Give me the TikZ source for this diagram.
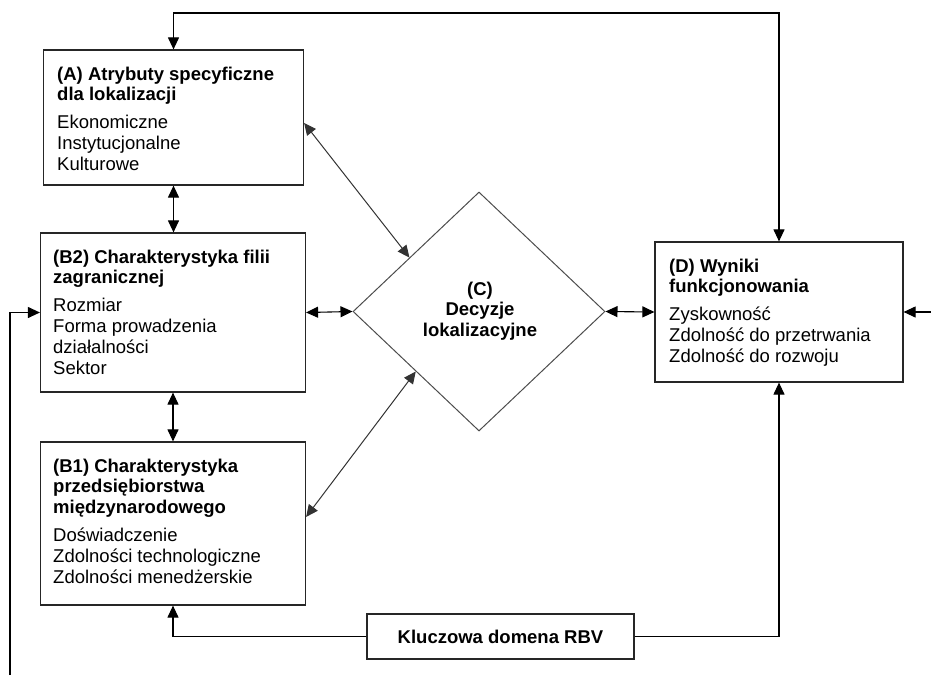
\documentclass[tikz,border=0pt]{standalone}
\usepackage{fontspec}
\setmainfont{Liberation Sans}
\usetikzlibrary{arrows.meta,shapes.geometric,calc}

% Text block: bold heading, a little space, then the list of items
\newcommand{\blocktext}[3]{%
  \begin{minipage}[t]{#1}%
    \setlength{\parindent}{0pt}\raggedright
    \fontsize{18.5}{20.8}\selectfont\lineskiplimit=-50pt
    \textbf{#2}\par\vspace{7.2pt}#3%
  \end{minipage}}

\begin{document}
\begin{tikzpicture}[x=1pt, y=-1pt,
  panel/.style={draw=black!85, line width=1.2pt, rectangle, inner sep=0pt},
  decision/.style={draw=black!70, line width=1pt, diamond, inner sep=0pt,
                   minimum width=252pt, minimum height=239pt},
  label/.style={inner sep=0pt, anchor=base west},
  tip/.tip={Triangle[length=12pt, width=11pt]},
  link/.style={line width=1.1pt},
  diag/.style={line width=1pt, draw=black!80},
]
\useasboundingbox (0,0) rectangle (931,675);

% boxes
\node[panel, minimum width=260pt, minimum height=135pt] (A)  at (173.5,117.5) {};
\node[panel, minimum width=265pt, minimum height=159pt] (B2) at (173,312.5) {};
\node[panel, minimum width=265pt, minimum height=163pt] (B1) at (173,523.5) {};
\node[panel, minimum width=248pt, minimum height=140pt] (D)  at (779,312) {};
\node[decision] (C) at (479,311.5) {};
\node[panel, minimum width=267pt, minimum height=45pt,
      font=\fontsize{18.5}{20.8}\selectfont\bfseries] (K) at (500.5,636.5) {Kluczowa domena RBV};

% box texts
\node[label] (Atxt) at (57,80) {\blocktext{240pt}{(A) Atrybuty specyficzne\\dla lokalizacji}
  {Ekonomiczne\\Instytucjonalne\\Kulturowe}};
\node[label] (B2txt) at (53,263) {\blocktext{245pt}{(B2) Charakterystyka filii\\zagranicznej}
  {Rozmiar\\Forma prowadzenia\\działalności\\Sektor}};
\node[label] (B1txt) at (53,472) {\blocktext{245pt}{(B1) Charakterystyka\\przedsiębiorstwa\\międzynarodowego}
  {Doświadczenie\\Zdolności technologiczne\\Zdolności menedżerskie}};
\node[label] (Dtxt) at (669,272) {\blocktext{230pt}{(D) Wyniki\\funkcjonowania}
  {Zyskowność\\Zdolność do przetrwania\\Zdolność do rozwoju}};
\node[inner sep=0pt, anchor=base] (Ctxt) at (480,295) {%
  \begin{minipage}[t]{160pt}\centering
  \fontsize{18.5}{20.8}\selectfont\bfseries\lineskiplimit=-50pt
  (C)\\Decyzje\\lokalizacyjne\end{minipage}};

% helper points for the outer loops
\coordinate (topY) at (0,13);
\coordinate (leftEnd) at (10,675);
\coordinate (rightEnd) at (931,312);

% feedback from the top
\draw[link, tip-tip] (A.north) -- (A.north |- topY) -- (D.north |- topY) -- (D.north);

% vertical links between the left boxes
\draw[link, tip-tip] (A.south) -- (A.south |- B2.north);
\draw[link, tip-tip] (B2.south) -- (B2.south |- B1.north);

% horizontal links through the decision
\draw[link, tip-tip] (B2.east) -- (C.west);
\draw[link, tip-tip] (C.east) -- (D.west);

% diagonal links to the decision
\draw[diag, tip-tip] ($(A.north east)!0.54!(A.south east)$) -- ($(C.west)!0.45!(C.north)$);
\draw[diag, tip-tip] ($(B1.north east)!0.46!(B1.south east)$) -- ($(C.west)!0.5!(C.south)$);

% RBV domain
\draw[link, -tip] (K.west) -| (B1.south);
\draw[link, -tip] (K.east) -| (D.south);

% incoming lines at the edges
\draw[link, -tip] (leftEnd) |- (B2.west);
\draw[link, -tip] (rightEnd) -- (D.east);
\end{tikzpicture}
\end{document}
